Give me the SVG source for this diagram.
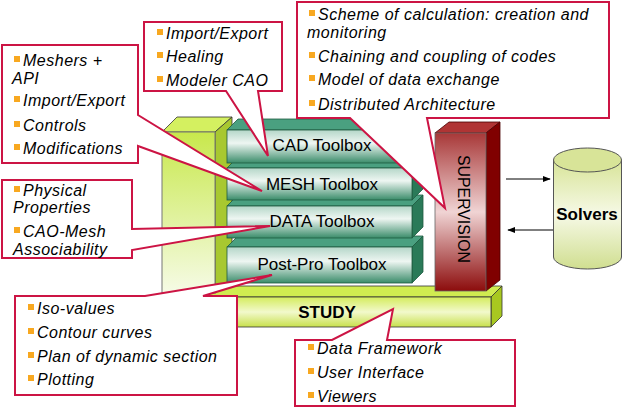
<svg xmlns="http://www.w3.org/2000/svg" width="623" height="408" viewBox="0 0 623 408">
<defs>
<linearGradient id="gCol" x1="0" y1="0" x2="0" y2="1"><stop offset="0" stop-color="#c8e84c"/><stop offset="1" stop-color="#f6fbe6"/></linearGradient>
<linearGradient id="gStudy" x1="0" y1="0" x2="0" y2="1"><stop offset="0" stop-color="#d4ec5c"/><stop offset="0.5" stop-color="#f2f9cc"/><stop offset="1" stop-color="#c8e04c"/></linearGradient>
<linearGradient id="gTool" x1="0" y1="0" x2="0" y2="1"><stop offset="0" stop-color="#b4d6c8"/><stop offset="0.4" stop-color="#eef6f2"/><stop offset="1" stop-color="#3a8c6a"/></linearGradient>
<linearGradient id="gSup" x1="0" y1="0" x2="0" y2="1"><stop offset="0" stop-color="#a83838"/><stop offset="0.5" stop-color="#f0d4d4"/><stop offset="1" stop-color="#8c0c0c"/></linearGradient>
<linearGradient id="gCyl" x1="0" y1="0" x2="0" y2="1"><stop offset="0" stop-color="#d8e498"/><stop offset="0.5" stop-color="#f6f9e6"/><stop offset="1" stop-color="#d0de90"/></linearGradient>
<marker id="arr" viewBox="0 0 10 10" refX="9" refY="5" markerWidth="8" markerHeight="8" markerUnits="userSpaceOnUse" orient="auto"><path d="M0,1 L10,5 L0,9 Z" fill="#000"/></marker>
</defs>
<style>
.lime{stroke:#333;stroke-width:0.8}
.tool{stroke:#1e5a40;stroke-width:0.8}
.sup{stroke:#4a0000;stroke-width:0.8}
.co{fill:#fff;stroke:#cc1444;stroke-width:2;stroke-linejoin:miter}
.t{font-family:"Liberation Sans",Arial,sans-serif;font-size:16px;letter-spacing:0.5px;font-style:italic;fill:#000}
.lbl{font-family:"Liberation Sans",Arial,sans-serif;font-size:17px;fill:#000;text-anchor:middle}
.b{fill:#f8a820}
</style>
<rect width="623" height="408" fill="#fff"/>

<g id="study">
<polygon class="lime" points="160,297 171,286 502,286 491,297" fill="#d0ec50"/>
<polygon class="lime" points="491,297 502,286 502,316 491,327" fill="#a8c820"/>
<rect class="lime" x="160" y="297" width="331" height="30" fill="url(#gStudy)"/>
<text class="lbl" x="327" y="318" font-weight="bold" font-size="21">STUDY</text>
</g>

<g id="column">
<polygon class="lime" points="162,132 177,117 232,117 215,132" fill="#d4f060"/>
<polygon class="lime" points="215,132 232,117 232,282 215,293" fill="#a8c830"/>
<rect x="162" y="132" width="53" height="161" fill="url(#gCol)" stroke="#777" stroke-width="1"/>
</g>

<g id="supervision">
<polygon class="sup" points="435,133 449,122 500,122 486,133" fill="#b03434"/>
<polygon class="sup" points="486,133 500,122 500,280 486,291" fill="#800000"/>
<rect x="435" y="133" width="51" height="158" fill="url(#gSup)" stroke="#666" stroke-width="0.8"/>
<text class="lbl" x="0" y="0" font-size="18" dominant-baseline="central" textLength="108" lengthAdjust="spacingAndGlyphs" transform="translate(463,209) rotate(90)">SUPERVISION</text>
</g>

<g id="postpro">
<polygon class="tool" points="227,247 238,236 423,236 412,247" fill="#4aa080"/>
<polygon class="tool" points="412,247 423,236 423,272 412,283" fill="#2a7a58"/>
<rect class="tool" x="227" y="247" width="185" height="36" fill="url(#gTool)"/>
<text class="lbl" x="322" y="270">Post-Pro Toolbox</text>
</g>
<g id="data">
<polygon class="tool" points="227,206 238,195 423,195 412,206" fill="#4aa080"/>
<polygon class="tool" points="412,206 423,195 423,227 412,238" fill="#2a7a58"/>
<rect class="tool" x="227" y="206" width="185" height="32" fill="url(#gTool)"/>
<text class="lbl" x="322" y="227">DATA Toolbox</text>
</g>
<g id="mesh">
<polygon class="tool" points="227,168 238,157 423,157 412,168" fill="#4aa080"/>
<polygon class="tool" points="412,168 423,157 423,189 412,200" fill="#2a7a58"/>
<rect class="tool" x="227" y="168" width="185" height="32" fill="url(#gTool)"/>
<text class="lbl" x="322" y="190">MESH Toolbox</text>
</g>
<g id="cad">
<polygon class="tool" points="227,130 238,119 423,119 412,130" fill="#4aa080"/>
<polygon class="tool" points="412,130 423,119 423,152 412,163" fill="#2a7a58"/>
<rect class="tool" x="227" y="130" width="185" height="33" fill="url(#gTool)"/>
<text class="lbl" x="322" y="151">CAD Toolbox</text>
</g>

<g id="solvers">
<path d="M553.5,160 V257 A34,12 0 0 0 621.5,257 V160 Z" fill="url(#gCyl)" stroke="#555" stroke-width="1"/>
<ellipse cx="587.5" cy="160" rx="34" ry="12" fill="#d8e498" stroke="#555" stroke-width="1"/>
<text class="lbl" x="587" y="220" font-weight="bold" font-size="16">Solvers</text>
</g>

<g id="connectors">
<line x1="506" y1="179" x2="550" y2="179" stroke="#000" stroke-width="1" marker-end="url(#arr)"/>
<line x1="553" y1="230" x2="508" y2="230" stroke="#000" stroke-width="1" marker-end="url(#arr)"/>
</g>

<g id="callout-mesh">
<path class="co" d="M2,45 H138 V115 L262,191 L138,146 V163 H2 Z"/>
<rect class="b" x="14" y="56" width="6" height="6"/><text class="t" x="23" y="66">Meshers +</text>
<text class="t" x="12" y="84">API</text>
<rect class="b" x="14" y="96" width="6" height="6"/><text class="t" x="23" y="106">Import/Export</text>
<rect class="b" x="14" y="121" width="6" height="6"/><text class="t" x="23" y="131">Controls</text>
<rect class="b" x="14" y="144" width="6" height="6"/><text class="t" x="23" y="154">Modifications</text>
</g>

<g id="callout-cad">
<path class="co" d="M144,22 H282 V91 H258 L268,156 L226,91 H144 Z"/>
<rect class="b" x="157" y="29" width="6" height="6"/><text class="t" x="166" y="39">Import/Export</text>
<rect class="b" x="157" y="52" width="6" height="6"/><text class="t" x="166" y="62">Healing</text>
<rect class="b" x="157" y="76" width="6" height="6"/><text class="t" x="166" y="86">Modeler CAO</text>
</g>

<g id="callout-supervision">
<path class="co" d="M297,2 H609 V118 H427 L445,208 L350,118 H297 Z"/>
<rect class="b" x="309" y="10" width="6" height="6"/><text class="t" x="318" y="20">Scheme of calculation: creation and</text>
<text class="t" x="307" y="38">monitoring</text>
<rect class="b" x="309" y="52" width="6" height="6"/><text class="t" x="318" y="62">Chaining and coupling of codes</text>
<rect class="b" x="309" y="75" width="6" height="6"/><text class="t" x="318" y="85">Model of data exchange</text>
<rect class="b" x="309" y="100" width="6" height="6"/><text class="t" x="318" y="110">Distributed Architecture</text>
</g>

<g id="callout-data">
<path class="co" d="M2,180 H132 V229 L270,226 L132,250 V258 H2 Z"/>
<rect class="b" x="14" y="186" width="6" height="6"/><text class="t" x="23" y="196">Physical</text>
<text class="t" x="13" y="213">Properties</text>
<rect class="b" x="14" y="227" width="6" height="6"/><text class="t" x="23" y="237">CAO-Mesh</text>
<text class="t" x="13" y="255">Associability</text>
</g>

<g id="callout-postpro">
<path class="co" d="M15,296 H145 L272,275 L203,296 H237 V395 H15 Z"/>
<rect class="b" x="28" y="304" width="6" height="6"/><text class="t" x="37" y="314">Iso-values</text>
<rect class="b" x="28" y="328" width="6" height="6"/><text class="t" x="37" y="338">Contour curves</text>
<rect class="b" x="28" y="352" width="6" height="6"/><text class="t" x="37" y="362">Plan of dynamic section</text>
<rect class="b" x="28" y="375" width="6" height="6"/><text class="t" x="37" y="385">Plotting</text>
</g>

<g id="callout-study">
<path class="co" d="M295,340 H332 L393,309 L387,340 H515 V406 H295 Z"/>
<rect class="b" x="308" y="344" width="6" height="6"/><text class="t" x="317" y="354">Data Framework</text>
<rect class="b" x="308" y="368" width="6" height="6"/><text class="t" x="317" y="378">User Interface</text>
<rect class="b" x="308" y="392" width="6" height="6"/><text class="t" x="317" y="402">Viewers</text>
</g>
</svg>
